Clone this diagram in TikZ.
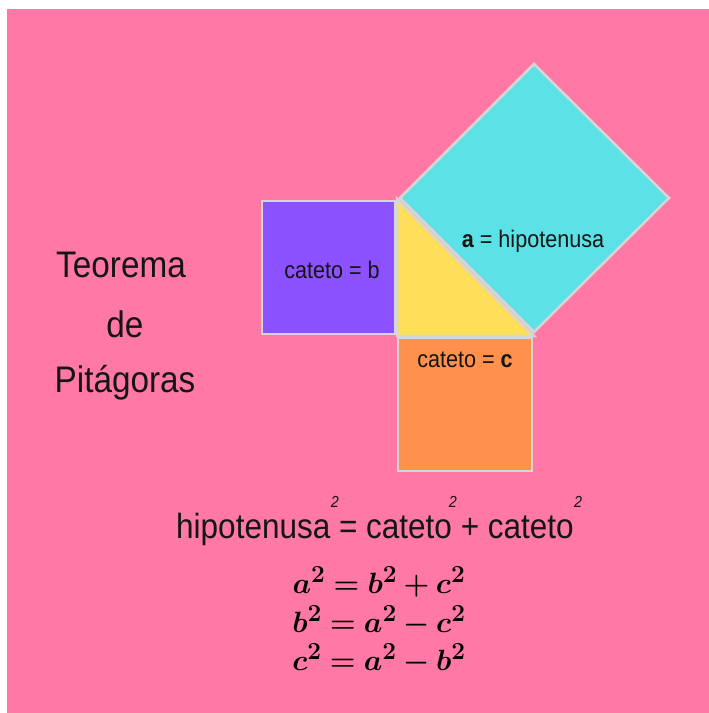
\documentclass[tikz,border=0pt]{standalone}
\usepackage{graphicx}
\usepackage{bm}
\usepackage{fontspec}
\newfontfamily\nar[FakeStretch=0.9]{Liberation Sans}
\definecolor{pinkbg}{HTML}{FF78A6}
\definecolor{purp}{HTML}{8C52FF}
\definecolor{teal2}{HTML}{5CE1E6}
\definecolor{yel}{HTML}{FFDE59}
\definecolor{orng}{HTML}{FF914D}
\definecolor{edgegrey}{HTML}{D6D6D6}
\definecolor{ink}{HTML}{151515}
\tikzset{
  sq/.style={draw=edgegrey, line width=2.5pt, line join=miter},
  lbl/.style={font=\nar\fontsize{24}{28}\selectfont, text=ink, anchor=base, inner sep=0pt},
  ttl/.style={font=\nar\fontsize{37}{40}\selectfont, text=ink, anchor=base, inner sep=0pt},
  frm/.style={font=\nar\fontsize{35}{40}\selectfont, text=ink, anchor=base, inner sep=0pt},
  supstyle/.style={font=\nar\itshape\fontsize{16}{18}\selectfont, text=ink, inner sep=0pt},
  eqstyle/.style={font=\fontsize{24.88}{30}\selectfont, text=black, anchor=base, inner sep=0pt}
}
\newcommand{\eqbig}[1]{\scalebox{1.18}{$\bm{#1}$}}
\begin{document}
\begin{tikzpicture}[x=1pt,y=-1pt]
\useasboundingbox (0,0) rectangle (709,713);
\fill[white] (0,0) rectangle (709,713);
\fill[pinkbg] (7,9) rectangle (709,713);
% shapes
\filldraw[sq, fill=teal2] (400,198) -- (534,64) -- (669,198) -- (534,332) -- cycle;
\filldraw[sq, fill=yel] (397,199) -- (397,336) -- (534,336) -- cycle;
\filldraw[sq, fill=purp] (262,201) rectangle (395,334);
\filldraw[sq, fill=orng] (398,338) rectangle (532,471);
% labels
\node[lbl] (lb) at (332,278) {cateto = b};
\node[lbl] (la) at (533,247) {{\bfseries a} = hipotenusa};
\node[lbl] (lc) at (465,367) {cateto = {\bfseries c}};
% title
\node[ttl] (t1) at (121,277) {Teorema};
\node[ttl] (t2) at (125,337) {de};
\node[ttl] (t3) at (125,392) {Pitágoras};
% formula in words
\node[frm] (fw) at (375,538) {hipotenusa = cateto + cateto};
\node[supstyle] (s1) at (335,502) {2};
\node[supstyle] (s2) at (453,502) {2};
\node[supstyle] (s3) at (578,502) {2};
% equations
\node[eqstyle] (e1) at (379,593) {\eqbig{a^2=b^2+c^2}};
\node[eqstyle] (e2) at (379,632) {\eqbig{b^2=a^2-c^2}};
\node[eqstyle] (e3) at (379,670) {\eqbig{c^2=a^2-b^2}};
\end{tikzpicture}
\end{document}
